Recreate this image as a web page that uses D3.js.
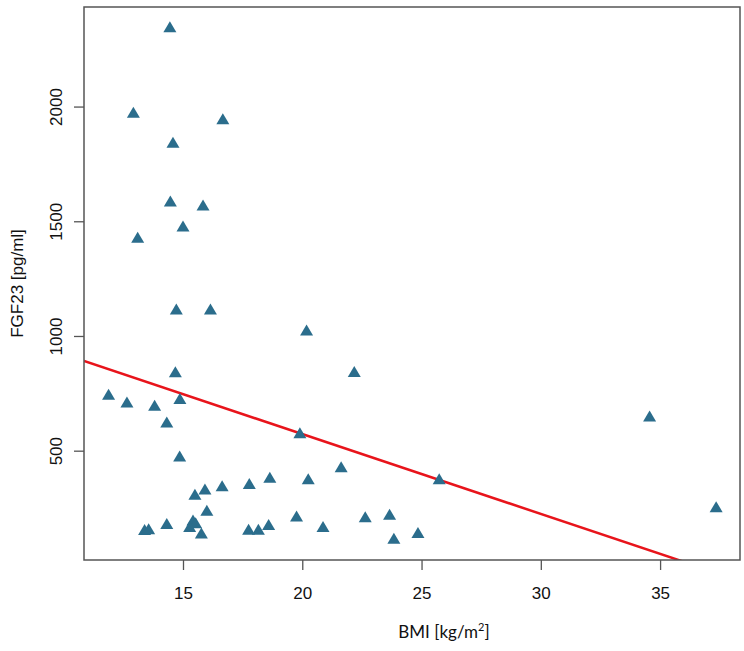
<!DOCTYPE html>
<html lang="en">
<head>
	<meta charset="UTF-8">
	<title>FGF23 vs BMI</title>
	<style>
		*{margin:0;padding:0;}
		body{background:#fff;}
		#container{width: 744px; height: 651px;}
		.sans{font-family: Arial, "Liberation Sans", Helvetica, "DejaVu Sans", sans-serif;}
	</style>
</head>
<body>
	<div id="container"></div>
	<script src="https://cdn.jsdelivr.net/npm/d3@7"></script>
	<script>
		// BMI [kg/m2] and FGF23 [pg/ml]
		var bmi = [14.45,12.92,16.67,14.58,14.47,15.84,15.00,13.10,14.72,16.15,
			20.18,14.68,22.18,11.88,12.65,13.81,14.87,14.32,14.86,19.90,
			34.56,21.63,18.64,17.78,16.64,15.92,15.50,20.25,25.74,16.00,
			15.42,15.53,15.28,15.77,14.32,13.39,13.56,17.75,18.16,18.59,
			19.76,22.64,23.66,20.87,23.84,24.85,37.35]
		var fgf23 = [2348,1975,1947,1844,1588,1571,1479,1430,1118,1118,
			1026,844,845,746,712,698,727,625,477,578,
			651,430,384,357,347,333,310,378,378,240,
			198,186,169,141,183,156,160,157,157,178,
			215,212,223,170,118,143,256]
		var xTicks = [15,20,25,30,35]
		var yTicks = [500,1000,1500,2000]
		// fitted line: fgf23 = a + b * bmi
		var fitIntercept = 1268.7, fitSlope = -34.81

		var W = 744, H = 651
		var margin = {left:84, top:7, right:4, bottom:91}
		var gw = W - margin.left - margin.right
		var gh = H - margin.top - margin.bottom

		var svg = d3.select('#container').append('svg').attr('width', W).attr('height', H)
		var g = svg.append('g').attr('transform', `translate(${margin.left},${margin.top})`)

		var scale_x = d3.scaleLinear().domain([10.85, 38.35]).range([0, gw])
		var scale_y = d3.scaleLinear().domain([23.5, 2434]).range([gh, 0])

		svg.append('defs').append('clipPath').attr('id', 'plot-clip')
			.append('rect').attr('width', gw).attr('height', gh)

		// axes
		var x_axis = d3.axisBottom(scale_x).tickValues(xTicks).tickFormat(d3.format('d'))
			.tickSize(10).tickPadding(17)
		var y_axis = d3.axisLeft(scale_y).tickValues(yTicks).tickFormat(d3.format('d')).tickSize(10)

		var gx = g.append('g').attr('transform', `translate(0, ${gh})`).call(x_axis)
		var gy = g.append('g').call(y_axis)
		;[gx, gy].forEach(function(a){
			a.attr('font-family', null).attr('font-size', null).attr('class', 'sans')
			a.select('.domain').remove()
			a.selectAll('line').attr('stroke', '#555').attr('stroke-width', 1.3)
			a.selectAll('text').attr('fill', '#111').style('font-size', '17px')
		})
		gy.selectAll('text')
			.attr('transform', 'rotate(-90)')
			.attr('x', 0).attr('y', -22).attr('dy', 0)
			.attr('text-anchor', 'middle')

		// regression line
		var xd = scale_x.domain()
		g.append('line')
			.attr('clip-path', 'url(#plot-clip)')
			.attr('x1', scale_x(xd[0])).attr('y1', scale_y(fitIntercept + fitSlope * xd[0]))
			.attr('x2', scale_x(xd[1])).attr('y2', scale_y(fitIntercept + fitSlope * xd[1]))
			.attr('stroke', '#e8141b').attr('stroke-width', 2.5)

		// points
		g.append('g').selectAll('path').data(bmi).enter().append('path')
			.attr('d', function(d, i){
				var cx = scale_x(d), cy = scale_y(fgf23[i])
				return `M${cx-6.5},${cy+5.5}L${cx+6.5},${cy+5.5}L${cx},${cy-5.5}Z`
			})
			.attr('fill', '#2b6d8c')

		// box
		g.append('rect').attr('width', gw).attr('height', gh)
			.attr('fill', 'none').attr('stroke', '#555').attr('stroke-width', 1.5)

		// titles
		svg.append('text')
			.text('FGF23 [pg/ml]')
			.attr('class', 'sans')
			.attr('transform', `translate(23, ${margin.top + gh / 2}) rotate(-90)`)
			.attr('text-anchor', 'middle')
			.attr('fill', '#111')
			.style('font-size', '17px')

		var xl = svg.append('text')
			.attr('x', 444).attr('y', 638)
			.attr('text-anchor', 'middle')
			.attr('fill', '#111')
			.style('font-family', 'Lato, "Open Sans", sans-serif').style('font-size', '17px')
		xl.append('tspan').text('BMI [kg/m')
		xl.append('tspan').text('2').attr('dy', -7).style('font-size', '11px')
		xl.append('tspan').text(']').attr('dy', 7)
	</script>
</body>
</html>
